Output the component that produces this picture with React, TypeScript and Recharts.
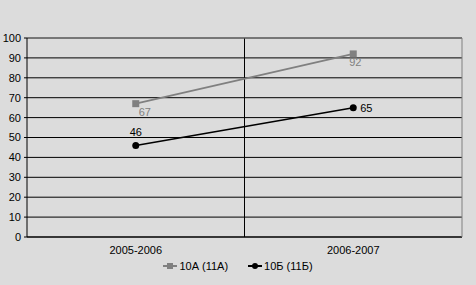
import React from 'react';
import { LineChart, Line, XAxis, YAxis, CartesianGrid, Legend, LabelList, ReferenceLine } from 'recharts';

const categories = ['2005-2006', '2006-2007'];
const class10A = [67, 92];
const class10B = [46, 65];
const yTicks = [0, 10, 20, 30, 40, 50, 60, 70, 80, 90, 100];
const seriesNames = ['10А (11А)', '10Б (11Б)'];

const data = categories.map((year, i) => ({ year, a: class10A[i], b: class10B[i] }));

const FONT = '"Liberation Sans", Arial, sans-serif';
const GRAY = '#808080';

const SquareDot = (props: any) => {
  const { cx, cy } = props;
  if (cx == null || cy == null) return null;
  return <rect x={cx - 3.5} y={cy - 3.5} width={7} height={7} fill={GRAY} />;
};

const GrayLabel = (props: any) => {
  const { x, y, value, index } = props;
  return (
    <text x={x + (index === 0 ? 9 : 2)} y={y + 12} fill={GRAY} fontSize={11} fontFamily={FONT} textAnchor="middle">
      {value}
    </text>
  );
};

const LegendContent = () => (
  <div style={{ display: 'flex', justifyContent: 'center', fontFamily: FONT, fontSize: 11, color: '#000' }}>
    <div style={{ display: 'flex', alignItems: 'center', marginRight: 20 }}>
      <svg width={14} height={8} style={{ marginRight: 2 }}>
        <line x1={0} y1={4} x2={14} y2={4} stroke={GRAY} strokeWidth={2} />
        <rect x={4} y={1} width={6} height={6} fill={GRAY} />
      </svg>
      <span>{seriesNames[0]}</span>
    </div>
    <div style={{ display: 'flex', alignItems: 'center' }}>
      <svg width={14} height={8} style={{ marginRight: 2 }}>
        <line x1={0} y1={4} x2={14} y2={4} stroke="#000" strokeWidth={2} />
        <circle cx={7} cy={4} r={3} fill="#000" />
      </svg>
      <span>{seriesNames[1]}</span>
    </div>
  </div>
);

export default function App() {
  return (
    <div style={{ position: 'absolute', left: 0, top: 0, width: 476, height: 285, background: '#dcdcdc' }}>
      <LineChart width={476} height={285} data={data} margin={{ top: 38, right: 0, bottom: 0, left: 0 }}>
        <CartesianGrid
          yAxisId="left"
          stroke="#000"
          verticalCoordinatesGenerator={({ offset }: any) => [offset.left + offset.width / 2]}
        />
        <XAxis
          dataKey="year"
          scale="band"
          height={48}
          stroke="#000"
          tickLine={false}
          tickSize={0}
          tickMargin={9}
          tick={{ fill: '#000', fontSize: 11, fontFamily: FONT }}
        />
        <YAxis
          yAxisId="left"
          width={27}
          domain={[0, 100]}
          ticks={yTicks}
          stroke="#000"
          tickSize={3}
          tickMargin={3}
          interval={0}
          tick={{ fill: '#000', fontSize: 11, fontFamily: FONT }}
        />
        <YAxis yAxisId="right" orientation="right" width={14} domain={[0, 100]} tick={false} tickLine={false} stroke={GRAY} />
        <ReferenceLine yAxisId="left" y={100} stroke={GRAY} />
        <Line
          yAxisId="left"
          dataKey="a"
          name={seriesNames[0]}
          stroke={GRAY}
          strokeWidth={1.7}
          dot={<SquareDot />}
          activeDot={false}
          isAnimationActive={false}
        >
          <LabelList dataKey="a" content={<GrayLabel />} />
        </Line>
        <Line
          yAxisId="left"
          dataKey="b"
          name={seriesNames[1]}
          stroke="#000"
          strokeWidth={1.5}
          dot={{ r: 3.5, fill: '#000', stroke: '#000', strokeWidth: 0 }}
          activeDot={false}
          isAnimationActive={false}
        >
          <LabelList
            dataKey="b"
            content={(props: any) => {
              const { x, y, value, index } = props;
              const first = index === 0;
              return (
                <text
                  x={first ? x : x + 7}
                  y={first ? y - 9 : y + 4}
                  fill="#000"
                  fontSize={11}
                  fontFamily={FONT}
                  textAnchor={first ? 'middle' : 'start'}
                >
                  {value}
                </text>
              );
            }}
          />
        </Line>
        <Legend
          layout="horizontal"
          verticalAlign="middle"
          align="center"
          content={<LegendContent />}
          wrapperStyle={{ top: 260, left: 0, width: 476 }}
        />
      </LineChart>
    </div>
  );
}
